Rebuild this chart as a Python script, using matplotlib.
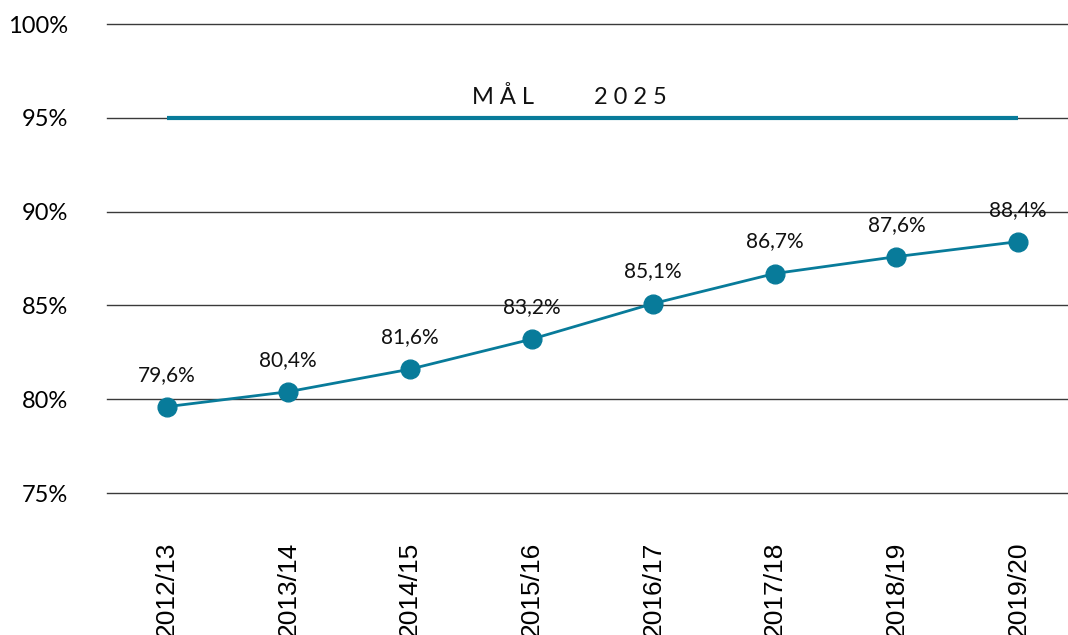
#!/usr/bin/env python3
"""Line chart: share per school year against the 2025 goal."""

import matplotlib

matplotlib.use("Agg")
import matplotlib.pyplot as plt
from matplotlib.transforms import ScaledTranslation

years = ["2012/13", "2013/14", "2014/15", "2015/16",
         "2016/17", "2017/18", "2018/19", "2019/20"]
values = [79.6, 80.4, 81.6, 83.2, 85.1, 86.7, 87.6, 88.4]
goal = 95
goal_label = "M Å L" + " " * 10 + "2 0 2 5"
y_ticks = [75, 80, 85, 90, 95, 100]

BLUE = "#087b9a"


def main() -> None:
    fig = plt.figure(figsize=(10.68, 6.35), dpi=100)
    ax = fig.add_axes([0.1002, 0.2236, 0.8998, 0.7386])

    x = list(range(len(years)))

    for t in y_ticks:
        ax.axhline(t, color="#3a3a3a", lw=1.0, zorder=1, clip_on=False)

    ax.plot([x[0], x[-1]], [goal, goal], color=BLUE, lw=3, zorder=2,
            solid_capstyle="butt")
    ax.text((x[0] + x[-1]) / 2 - 0.19, goal + 1.1, goal_label, ha="center",
            va="center", fontsize=17, family="Lato", color="#111111")

    ax.plot(x, values, color=BLUE, lw=2, marker="o", markersize=13.5,
            zorder=3)
    for xi, v in zip(x, values):
        ax.annotate(f"{v:.1f}%".replace(".", ","), (xi, v),
                    xytext=(0, 23), textcoords="offset points",
                    ha="center", va="center", fontsize=15, family="Lato",
                    color="#111111")

    ax.set_xlim(-0.49, 7.41)
    ax.set_ylim(75, 100)
    ax.set_yticks(y_ticks)
    ax.set_yticklabels([f"{t}%" for t in y_ticks], family="Lato", fontsize=17)
    ax.set_xticks(x)
    ax.set_xticklabels(years, rotation=90, family="Liberation Sans",
                       fontsize=19)
    shift = ScaledTranslation(3 / 72, 0, fig.dpi_scale_trans)
    for lab in ax.get_xticklabels():
        lab.set_transform(lab.get_transform() + shift)
    ax.tick_params(axis="y", length=0, pad=28)
    ax.tick_params(axis="x", length=0, pad=35)
    for s in ax.spines.values():
        s.set_visible(False)

    fig.savefig("out.png", dpi=100)
    plt.close(fig)


if __name__ == "__main__":
    main()
